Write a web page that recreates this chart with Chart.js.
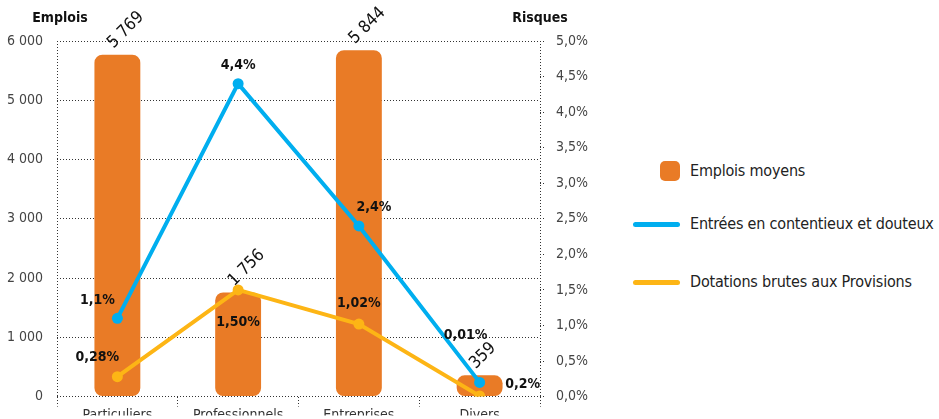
<!DOCTYPE html>
<html lang="fr">
<head>
<meta charset="utf-8">
<title>Emplois et risques</title>
<script src="https://cdn.jsdelivr.net/npm/chart.js@4.4.1/dist/chart.umd.min.js"></script>
<style>
    html, body { margin: 0; padding: 0; background: #fff; }
    body { width: 939px; height: 419px; position: relative; overflow: hidden;
           font-family: "Liberation Sans Narrow", "DejaVu Sans Condensed", "Roboto", sans-serif; }
    #wrap { position: absolute; left: 0; top: 0; width: 600px; height: 419px; }
    .legend { position: absolute; left: 633px; color: #222; font-size: 16px; letter-spacing: -0.2px; }
    .legend .item { position: absolute; left: 0; width: 320px; height: 24px; white-space: nowrap; }
    .legend .sw { position: absolute; top: 50%; }
    .legend .txt { position: absolute; left: 57px; top: 50%; transform: translateY(-52%); }
    .sq { left: 27px; width: 20px; height: 20px; margin-top: -10px; border-radius: 5px; background: #E97B26; }
    .ln { left: 0; width: 47px; height: 5px; margin-top: -2.5px; border-radius: 3px; }
</style>
</head>
<body>
<div id="wrap"><canvas id="myChart"></canvas></div>
<div class="legend">
    <div class="item" style="top:159px"><span class="sw sq"></span><span class="txt">Emplois moyens</span></div>
    <div class="item" style="top:212px"><span class="sw ln" style="background:#00AEEF"></span><span class="txt">Entrées en contentieux et douteux</span></div>
    <div class="item" style="top:270px"><span class="sw ln" style="background:#FDB515"></span><span class="txt">Dotations brutes aux Provisions</span></div>
</div>
<script>
"use strict";

const FONT = '"Liberation Sans Narrow", "DejaVu Sans Condensed", "Roboto", sans-serif';

const categories = ["Particuliers", "Professionnels", "Entreprises", "Divers"];
const emplois = [5769, 1756, 5844, 359];
const entrees = [1.1, 4.4, 2.4, 0.2];
const dotations = [0.28, 1.50, 1.02, 0.01];

// where each percentage label sits relative to its point
const entreesLabelOffset = [[-20, -18], [0, -18], [15, -19], [43, 2]];
const dotationsLabelOffset = [[-20, -19], [0, 32], [0, -21], [-14, -61]];

function formatThousands(n) {
    return String(n).replace(/\B(?=(\d{3})+(?!\d))/g, ' ');
}

function formatPct(v, digits) {
    return v.toFixed(digits).replace('.', ',') + '%';
}

const DOTS = [1, 2];

const valueLabels = {
    id: 'valueLabels',
    afterDatasetsDraw(chart) {
        const ctx = chart.ctx;
        const area = chart.chartArea;
        ctx.save();

        // axis titles
        ctx.font = 'bold 14px ' + FONT;
        ctx.fillStyle = '#111';
        ctx.textAlign = 'center';
        ctx.textBaseline = 'middle';
        ctx.fillText('Emplois', area.left + 3, 18);
        ctx.fillText('Risques', area.right, 18);

        // bar values, turned 45 degrees
        ctx.font = '17px ' + FONT;
        chart.getDatasetMeta(0).data.forEach((bar, i) => {
            ctx.save();
            ctx.translate(bar.x - 4, bar.y - 6);
            ctx.rotate(-Math.PI / 4);
            ctx.textAlign = 'left';
            ctx.textBaseline = 'alphabetic';
            ctx.fillText(formatThousands(emplois[i]), 0, 0);
            ctx.restore();
        });

        // percentages on both lines
        ctx.font = 'bold 14px ' + FONT;
        ctx.textAlign = 'center';
        ctx.textBaseline = 'middle';
        chart.getDatasetMeta(1).data.forEach((pt, i) => {
            const [dx, dy] = entreesLabelOffset[i];
            ctx.fillText(formatPct(entrees[i], 1), pt.x + dx, pt.y + dy);
        });
        chart.getDatasetMeta(2).data.forEach((pt, i) => {
            const [dx, dy] = dotationsLabelOffset[i];
            ctx.fillText(formatPct(dotations[i], 2), pt.x + dx, pt.y + dy);
        });
        ctx.restore();
    }
};

function CreateChart() {
    const ctx = document.getElementById('myChart').getContext('2d');
    const lastCategory = categories.length;

    new Chart(ctx, {
        data: {
            labels: categories,
            datasets: [
                {
                    type: 'bar',
                    label: 'Emplois moyens',
                    data: emplois,
                    yAxisID: 'y',
                    backgroundColor: '#E97B26',
                    borderWidth: 0,
                    borderRadius: 8,
                    borderSkipped: false,
                    categoryPercentage: 1,
                    barPercentage: 0.38,
                    order: 3
                },
                {
                    type: 'line',
                    label: 'Entrées en contentieux et douteux',
                    data: entrees,
                    yAxisID: 'y2',
                    borderColor: '#00AEEF',
                    backgroundColor: '#00AEEF',
                    borderWidth: 4,
                    pointRadius: 5.5,
                    pointBorderWidth: 0,
                    tension: 0,
                    order: 2
                },
                {
                    type: 'line',
                    label: 'Dotations brutes aux Provisions',
                    data: dotations,
                    yAxisID: 'y2',
                    borderColor: '#FDB515',
                    backgroundColor: '#FDB515',
                    borderWidth: 4,
                    pointRadius: 5.5,
                    pointBorderWidth: 0,
                    tension: 0,
                    order: 1
                }
            ]
        },
        options: {
            responsive: true,
            maintainAspectRatio: false,
            animation: false,
            layout: { padding: { top: 41, left: 0, right: 0, bottom: 0 } },
            plugins: {
                legend: { display: false },
                tooltip: { enabled: false }
            },
            scales: {
                x: {
                    offset: true,
                    afterFit: scale => { scale.height = 19; },
                    border: { display: false, dash: DOTS },
                    grid: {
                        offset: true,
                        drawOnChartArea: true,
                        color: c => (c.index === 0 || c.index === undefined || c.index === lastCategory) ? '#333' : 'rgba(0,0,0,0)',
                        lineWidth: 1,
                        drawTicks: true,
                        tickLength: 10,
                        tickColor: '#333',
                        tickBorderDash: DOTS
                    },
                    ticks: {
                        color: '#333',
                        padding: 0,
                        font: { family: FONT, size: 14 }
                    }
                },
                y: {
                    position: 'left',
                    min: 0,
                    max: 6000,
                    afterFit: scale => { scale.width = 57; },
                    border: { display: false, dash: DOTS },
                    grid: {
                        color: '#333',
                        lineWidth: 1,
                        drawTicks: false
                    },
                    ticks: {
                        stepSize: 1000,
                        padding: 14,
                        color: '#444',
                        font: { family: FONT, size: 14 },
                        callback: v => formatThousands(v)
                    }
                },
                y2: {
                    position: 'right',
                    min: 0,
                    max: 5,
                    afterFit: scale => { scale.width = 60; },
                    border: { display: false },
                    grid: {
                        drawOnChartArea: false,
                        drawTicks: true,
                        tickLength: 6,
                        tickColor: '#333',
                        tickBorderDash: DOTS
                    },
                    ticks: {
                        stepSize: 0.5,
                        padding: 10,
                        color: '#444',
                        font: { family: FONT, size: 14 },
                        callback: v => formatPct(v, 1)
                    }
                }
            }
        },
        plugins: [valueLabels]
    });
}

window.addEventListener('load', () => {
    CreateChart();
});
</script>
</body>
</html>
